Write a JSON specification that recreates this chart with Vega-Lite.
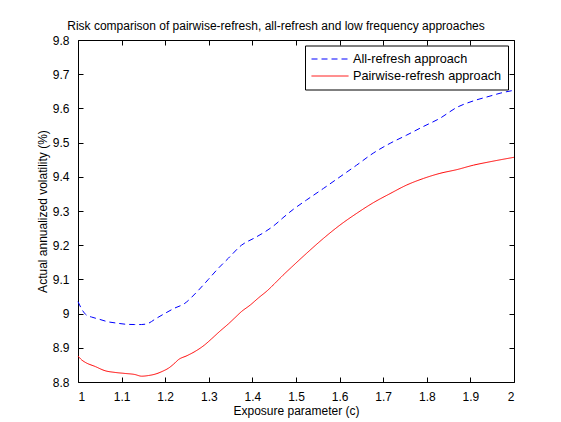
{
  "$schema": "https://vega.github.io/schema/vega-lite/v6.json",
  "autosize": "none",
  "width": 436,
  "height": 342,
  "padding": {"left": 78, "top": 40, "right": 47, "bottom": 40},
  "background": "white",
  "title": {"text": "Risk comparison of pairwise-refresh, all-refresh and low frequency approaches", "font": "Liberation Sans", "fontSize": 12, "fontWeight": "normal", "color": "black", "offset": 4, "anchor": "middle", "dx": -20, "dy": 3},
  "config": {
    "view": {"stroke": "black", "strokeWidth": 1},
    "axis": {"labelFont": "Liberation Sans", "labelFontSize": 12, "labelColor": "black", "titleFont": "Liberation Sans", "titleFontSize": 12, "titleFontWeight": "normal", "titleColor": "black", "domain": false, "tickColor": "black", "grid": false, "ticks": true, "tickSize": 5, "tickWidth": 1, "offset": -5, "labelPadding": 9}
  },
  "data": {"values": [
    {"c":1.000,"approach":"All-refresh approach","v":9.035},
    {"c":1.010,"approach":"All-refresh approach","v":9.010},
    {"c":1.020,"approach":"All-refresh approach","v":8.995},
    {"c":1.031,"approach":"All-refresh approach","v":8.990},
    {"c":1.050,"approach":"All-refresh approach","v":8.983},
    {"c":1.069,"approach":"All-refresh approach","v":8.976},
    {"c":1.090,"approach":"All-refresh approach","v":8.972},
    {"c":1.108,"approach":"All-refresh approach","v":8.969},
    {"c":1.130,"approach":"All-refresh approach","v":8.968},
    {"c":1.146,"approach":"All-refresh approach","v":8.968},
    {"c":1.162,"approach":"All-refresh approach","v":8.972},
    {"c":1.177,"approach":"All-refresh approach","v":8.984},
    {"c":1.200,"approach":"All-refresh approach","v":9.001},
    {"c":1.220,"approach":"All-refresh approach","v":9.015},
    {"c":1.245,"approach":"All-refresh approach","v":9.030},
    {"c":1.270,"approach":"All-refresh approach","v":9.060},
    {"c":1.299,"approach":"All-refresh approach","v":9.100},
    {"c":1.320,"approach":"All-refresh approach","v":9.130},
    {"c":1.345,"approach":"All-refresh approach","v":9.162},
    {"c":1.375,"approach":"All-refresh approach","v":9.200},
    {"c":1.406,"approach":"All-refresh approach","v":9.222},
    {"c":1.430,"approach":"All-refresh approach","v":9.240},
    {"c":1.452,"approach":"All-refresh approach","v":9.260},
    {"c":1.470,"approach":"All-refresh approach","v":9.280},
    {"c":1.494,"approach":"All-refresh approach","v":9.305},
    {"c":1.524,"approach":"All-refresh approach","v":9.332},
    {"c":1.563,"approach":"All-refresh approach","v":9.366},
    {"c":1.601,"approach":"All-refresh approach","v":9.400},
    {"c":1.639,"approach":"All-refresh approach","v":9.434},
    {"c":1.677,"approach":"All-refresh approach","v":9.469},
    {"c":1.716,"approach":"All-refresh approach","v":9.498},
    {"c":1.754,"approach":"All-refresh approach","v":9.522},
    {"c":1.792,"approach":"All-refresh approach","v":9.547},
    {"c":1.830,"approach":"All-refresh approach","v":9.571},
    {"c":1.869,"approach":"All-refresh approach","v":9.603},
    {"c":1.907,"approach":"All-refresh approach","v":9.622},
    {"c":1.945,"approach":"All-refresh approach","v":9.636},
    {"c":1.970,"approach":"All-refresh approach","v":9.645},
    {"c":2.000,"approach":"All-refresh approach","v":9.653},
    {"c":1.000,"approach":"Pairwise-refresh approach","v":8.876},
    {"c":1.008,"approach":"Pairwise-refresh approach","v":8.865},
    {"c":1.016,"approach":"Pairwise-refresh approach","v":8.858},
    {"c":1.040,"approach":"Pairwise-refresh approach","v":8.845},
    {"c":1.062,"approach":"Pairwise-refresh approach","v":8.833},
    {"c":1.085,"approach":"Pairwise-refresh approach","v":8.828},
    {"c":1.108,"approach":"Pairwise-refresh approach","v":8.825},
    {"c":1.130,"approach":"Pairwise-refresh approach","v":8.822},
    {"c":1.146,"approach":"Pairwise-refresh approach","v":8.817},
    {"c":1.162,"approach":"Pairwise-refresh approach","v":8.819},
    {"c":1.177,"approach":"Pairwise-refresh approach","v":8.823},
    {"c":1.195,"approach":"Pairwise-refresh approach","v":8.832},
    {"c":1.207,"approach":"Pairwise-refresh approach","v":8.840},
    {"c":1.220,"approach":"Pairwise-refresh approach","v":8.853},
    {"c":1.230,"approach":"Pairwise-refresh approach","v":8.865},
    {"c":1.250,"approach":"Pairwise-refresh approach","v":8.877},
    {"c":1.268,"approach":"Pairwise-refresh approach","v":8.889},
    {"c":1.290,"approach":"Pairwise-refresh approach","v":8.908},
    {"c":1.307,"approach":"Pairwise-refresh approach","v":8.927},
    {"c":1.325,"approach":"Pairwise-refresh approach","v":8.948},
    {"c":1.345,"approach":"Pairwise-refresh approach","v":8.970},
    {"c":1.360,"approach":"Pairwise-refresh approach","v":8.988},
    {"c":1.375,"approach":"Pairwise-refresh approach","v":9.006},
    {"c":1.395,"approach":"Pairwise-refresh approach","v":9.025},
    {"c":1.414,"approach":"Pairwise-refresh approach","v":9.046},
    {"c":1.435,"approach":"Pairwise-refresh approach","v":9.068},
    {"c":1.452,"approach":"Pairwise-refresh approach","v":9.089},
    {"c":1.470,"approach":"Pairwise-refresh approach","v":9.112},
    {"c":1.490,"approach":"Pairwise-refresh approach","v":9.136},
    {"c":1.524,"approach":"Pairwise-refresh approach","v":9.176},
    {"c":1.563,"approach":"Pairwise-refresh approach","v":9.220},
    {"c":1.601,"approach":"Pairwise-refresh approach","v":9.259},
    {"c":1.639,"approach":"Pairwise-refresh approach","v":9.293},
    {"c":1.677,"approach":"Pairwise-refresh approach","v":9.324},
    {"c":1.716,"approach":"Pairwise-refresh approach","v":9.351},
    {"c":1.754,"approach":"Pairwise-refresh approach","v":9.376},
    {"c":1.792,"approach":"Pairwise-refresh approach","v":9.395},
    {"c":1.830,"approach":"Pairwise-refresh approach","v":9.410},
    {"c":1.869,"approach":"Pairwise-refresh approach","v":9.421},
    {"c":1.907,"approach":"Pairwise-refresh approach","v":9.434},
    {"c":1.945,"approach":"Pairwise-refresh approach","v":9.444},
    {"c":2.000,"approach":"Pairwise-refresh approach","v":9.457}
  ]},
  "resolve": {"axis": {"x": "independent", "y": "independent"}},
  "layer": [
    {
      "mark": {"type": "line", "strokeWidth": 1, "interpolate": "monotone"},
      "encoding": {
        "x": {"field": "c", "type": "quantitative", "scale": {"domain": [1, 2], "nice": false, "zero": false}, "axis": {"title": "Exposure parameter (c)", "values": [1,1.1,1.2,1.3,1.4,1.5,1.6,1.7,1.8,1.9,2], "format": "~g", "titlePadding": 3}},
        "y": {"field": "v", "type": "quantitative", "scale": {"domain": [8.8, 9.8], "nice": false, "zero": false}, "axis": {"title": "Actual annualized volatility (%)", "values": [8.8,8.9,9,9.1,9.2,9.3,9.4,9.5,9.6,9.7,9.8], "format": "~g", "titlePadding": 3}},
        "color": {"field": "approach", "type": "nominal", "scale": {"domain": ["All-refresh approach", "Pairwise-refresh approach"], "range": ["#0000ff", "#ff0000"]},
          "legend": {"title": null, "orient": "none", "legendX": 227, "legendY": 5.5, "fillColor": "white", "strokeColor": "black", "padding": 6, "symbolType": "stroke", "symbolSize": 1369, "symbolStrokeWidth": 1, "clipHeight": 15, "labelFont": "Liberation Sans", "labelFontSize": 12.7, "labelColor": "black", "rowPadding": 2, "labelOffset": 4, "labelLimit": 300}},
        "strokeDash": {"field": "approach", "type": "nominal", "scale": {"domain": ["All-refresh approach", "Pairwise-refresh approach"], "range": [[6, 4], [1, 0]]}, "legend": null}
      }
    },
    {
      "mark": {"type": "rule", "opacity": 0},
      "encoding": {
        "x": {"field": "c", "type": "quantitative", "scale": {"domain": [1, 2], "nice": false, "zero": false}, "axis": {"orient": "top", "title": null, "labels": false, "values": [1,1.1,1.2,1.3,1.4,1.5,1.6,1.7,1.8,1.9,2]}},
        "y": {"field": "v", "type": "quantitative", "scale": {"domain": [8.8, 9.8], "nice": false, "zero": false}, "axis": {"orient": "right", "title": null, "labels": false, "values": [8.8,8.9,9,9.1,9.2,9.3,9.4,9.5,9.6,9.7,9.8]}}
      }
    }
  ]
}
